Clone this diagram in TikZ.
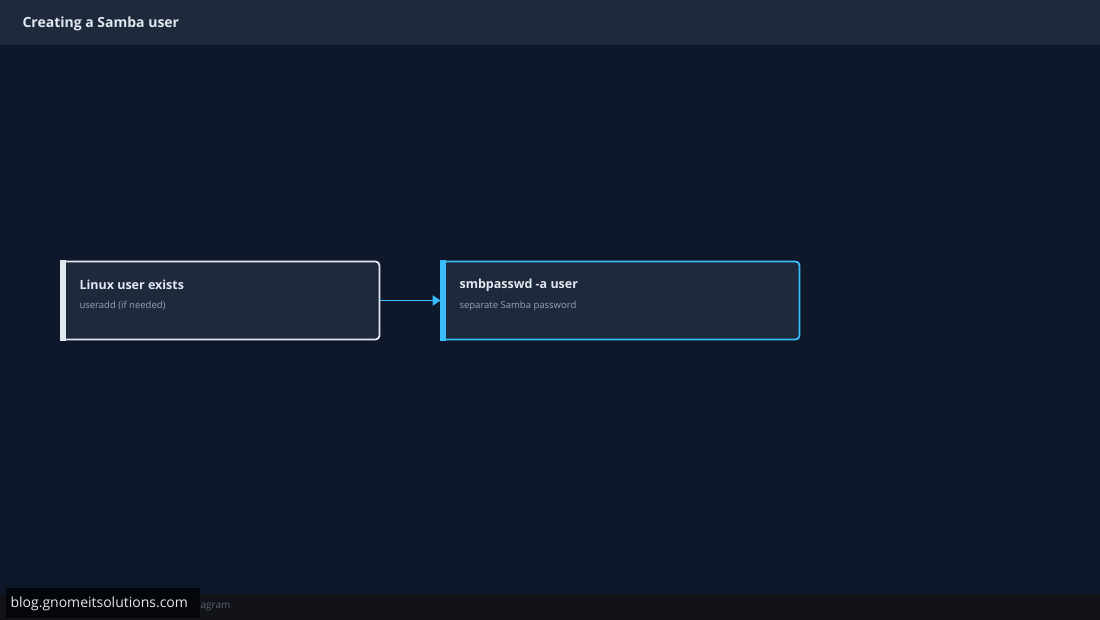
\documentclass[tikz,border=0pt]{standalone}
\usepackage{fontspec}
\setmainfont{Open Sans}
\usetikzlibrary{positioning}
\usetikzlibrary{arrows.meta}
\definecolor{bgdark}{HTML}{0F172A}
\definecolor{panel}{HTML}{1E293B}
\definecolor{edgelight}{HTML}{E2E8F0}
\definecolor{edgeblue}{HTML}{38BDF8}
\definecolor{subtext}{HTML}{94A3B8}
\definecolor{footbar}{HTML}{111318}
\tikzset{
  stepbox/.style={draw=#1, fill=panel, line width=1.8pt, rounded corners=4pt,
    minimum height=78pt, inner sep=0pt},
  title/.style={font=\bfseries\fontsize{12.5}{14}\selectfont, text=edgelight, anchor=west},
  sub/.style={font=\fontsize{9.5}{11}\selectfont, text=subtext, anchor=west},
}
\begin{document}
\begin{tikzpicture}[x=1pt,y=-1pt]
\useasboundingbox (0,0) rectangle (1100,620);
\fill[bgdark] (0,0) rectangle (1100,620);
\fill[panel] (0,0) rectangle (1100,45);
\node[anchor=west, text=edgelight, font=\bfseries\fontsize{14}{16}\selectfont] (head) at (19,24) {Creating a Samba user};
% the two steps
\node[stepbox=edgelight, minimum width=318pt] (linux) at (220.5,300.5) {};
\fill[edgelight] (60,260) rectangle (66,341);
\node[title] (linuxT) at (76,285) {Linux user exists};
\node[sub] (linuxS) at (76,306) {useradd (if needed)};
\node[stepbox=edgeblue, minimum width=358pt] (smb) at (620.5,300.5) {};
\fill[edgeblue] (440,260) rectangle (446,341);
\node[title] (smbT) at (456,285) {smbpasswd -a user};
\node[sub] (smbS) at (456,306) {separate Samba password};
\draw[edgeblue, line width=1.8pt, -{Triangle[length=8pt,width=10pt]}] (linux.east) -- (smb.west);
% footer
\fill[footbar] (0,594) rectangle (1100,620);
\node[anchor=east, text=subtext!55!footbar, font=\fontsize{10}{11}\selectfont] (foot) at (234,606) {Diagram};
\fill[black!80!bgdark, opacity=.92] (6,588) rectangle (200,618);
\node[anchor=west, text=white!90!black, font=\fontsize{14}{16}\selectfont] (mark) at (7,604) {blog.gnomeitsolutions.com};
\end{tikzpicture}
\end{document}
